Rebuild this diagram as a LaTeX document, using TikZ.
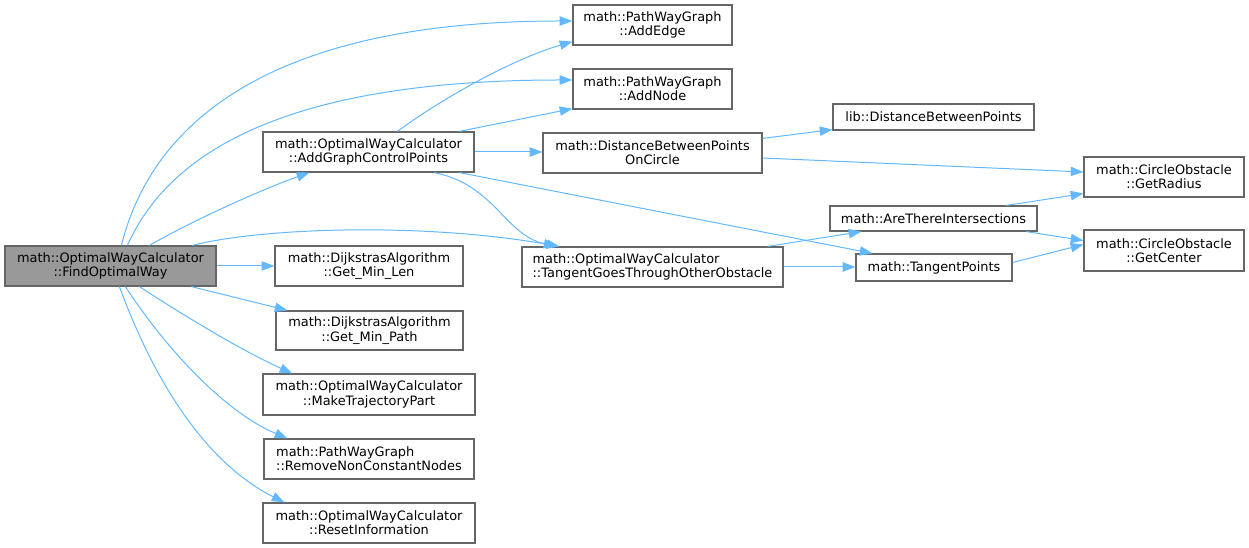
\documentclass[tikz,border=0pt]{standalone}
\usepackage{fontspec}
\setmainfont{DejaVu Sans}
\usetikzlibrary{calc,arrows.meta}
\definecolor{edgeblue}{HTML}{63B8FF}
\definecolor{boxgray}{HTML}{666666}
\definecolor{fillgray}{HTML}{999999}
\tikzset{
  box/.style={draw=boxgray, line width=0.9pt, fill=white, inner sep=0pt, align=center,
    font=\fontsize{9.7}{10.7}\selectfont},
  boxl/.style={box, align=left},
  call/.style={draw=edgeblue, line width=0.75pt, -{Triangle[length=9.5pt,width=7pt]}},
}
\begin{document}
\begin{tikzpicture}[x=0.75pt,y=-0.75pt]
\useasboundingbox (0,0) rectangle (1249,548);
% nodes
\node[box, fill=fillgray, minimum width={211*0.75pt}, minimum height={40*0.75pt}] (F) at (110.5,266) {math::OptimalWayCalculator\\::FindOptimalWay};
\node[box, minimum width={159*0.75pt}, minimum height={40*0.75pt}] (AE) at (652.5,25) {math::PathWayGraph\\::AddEdge};
\node[box, minimum width={159*0.75pt}, minimum height={40*0.75pt}] (AN) at (652.5,89) {math::PathWayGraph\\::AddNode};
\node[box, minimum width={211*0.75pt}, minimum height={40*0.75pt}] (AG) at (368.5,152) {math::OptimalWayCalculator\\::AddGraphControlPoints};
\node[box, minimum width={219*0.75pt}, minimum height={40*0.75pt}] (DC) at (652.5,153) {math::DistanceBetweenPoints\\OnCircle};
\node[box, minimum width={201*0.75pt}, minimum height={26*0.75pt}] (LD) at (933.5,117) {lib::DistanceBetweenPoints};
\node[box, minimum width={160*0.75pt}, minimum height={40*0.75pt}] (GR) at (1164,177) {math::CircleObstacle\\::GetRadius};
\node[box, minimum width={207*0.75pt}, minimum height={25*0.75pt}] (AT) at (933.5,218.5) {math::AreThereIntersections};
\node[box, minimum width={160*0.75pt}, minimum height={41*0.75pt}] (GC) at (1164,250.5) {math::CircleObstacle\\::GetCenter};
\node[boxl, minimum width={261*0.75pt}, minimum height={40*0.75pt}] (TG) at (652.5,267) {math::OptimalWayCalculator\\::TangentGoesThroughOtherObstacle};
\node[box, minimum width={156*0.75pt}, minimum height={27*0.75pt}] (TP) at (934,267.5) {math::TangentPoints};
\node[box, minimum width={188*0.75pt}, minimum height={40*0.75pt}] (GML) at (369,266) {math::DijkstrasAlgorithm\\::Get\_Min\_Len};
\node[box, minimum width={187*0.75pt}, minimum height={39*0.75pt}] (GMP) at (369.5,330.5) {math::DijkstrasAlgorithm\\::Get\_Min\_Path};
\node[box, minimum width={212*0.75pt}, minimum height={41*0.75pt}] (MT) at (369,394.5) {math::OptimalWayCalculator\\::MakeTrajectoryPart};
\node[boxl, minimum width={210*0.75pt}, minimum height={40*0.75pt}] (RN) at (369,459) {math::PathWayGraph\\::RemoveNonConstantNodes};
\node[box, minimum width={212*0.75pt}, minimum height={40*0.75pt}] (RI) at (369,523) {math::OptimalWayCalculator\\::ResetInformation};
% edges from F
\draw[call] ($(F.north west)+(117,0)$) .. controls (150,130) and (260,21) .. ($(AE.west)+(0,-4)$);
\draw[call] ($(F.north west)+(123,0)$) .. controls (170,150) and (290,80) .. ($(AN.west)+(0,-9)$);
\draw[call] ($(F.north west)+(145,0)$) .. controls (190,222) and (260,190) .. ($(AG.south west)+(47,0)$);
\draw[call] ($(F.north west)+(188,0)$) .. controls (260,228) and (420,222) .. ($(TG.north west)+(38,0)$);
\draw[call] (F.east) -- (GML.west);
\draw[call] ($(F.south west)+(187,0)$) -- ($(GMP.north west)+(12,0)$);
\draw[call] ($(F.south west)+(135,0)$) .. controls (175,310) and (240,350) .. ($(MT.north west)+(30,0)$);
\draw[call] ($(F.south west)+(121,0)$) .. controls (160,340) and (220,410) .. ($(RN.north west)+(24,0)$);
\draw[call] ($(F.south west)+(115,0)$) .. controls (150,370) and (200,460) .. ($(RI.north west)+(22,0)$);
% edges from AG
\draw[call] ($(AG.north west)+(135,0)$) .. controls (440,100) and (510,60) .. ($(AE.south west)+(0,-4)$);
\draw[call] ($(AG.north west)+(197,0)$) -- ($(AN.south west)+(0,-1)$);
\draw[call] (AG.east) -- (AG.east -| DC.west);
\draw[call] ($(AG.south west)+(172,0)$) .. controls (495,185) and (505,235) .. ($(TG.north west)+(35,0)$);
\draw[call] ($(AG.south west)+(197,0)$) -- ($(TP.north west)+(17,0)$);
% edges from DC
\draw[call] ($(DC.north east)+(0,6)$) -- ($(LD.south west)+(0,-1)$);
\draw[call] ($(DC.east)+(0,5)$) -- ($(GR.west)+(0,-5)$);
% edges from TG
\draw[call] ($(TG.north east)+(-16,0)$) -- ($(AT.south west)+(32,0)$);
\draw[call] (TG.east) -- (TG.east -| TP.west);
% edges from AT and TP
\draw[call] ($(AT.north west)+(177,0)$) -- ($(GR.south west)+(0,-4)$);
\draw[call] ($(AT.south west)+(197,0)$) -- ($(GC.west)+(0,-10)$);
\draw[call] ($(TP.east)+(0,-5)$) -- ($(GC.west)+(0,-6)$);
\end{tikzpicture}
\end{document}
